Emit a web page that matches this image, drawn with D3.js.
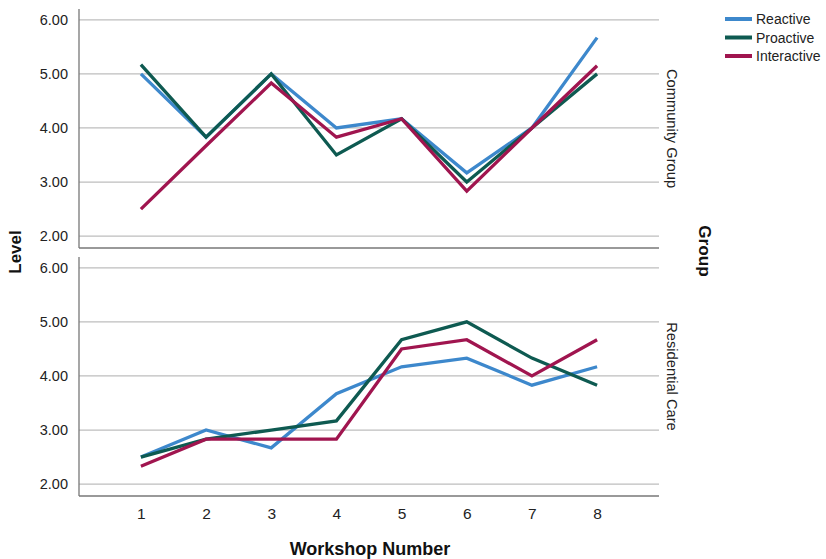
<!DOCTYPE html>
<html>
<head>
<meta charset="utf-8">
<script src="https://cdn.jsdelivr.net/npm/d3@7"></script>
<style>
  html, body { margin: 0; padding: 0; background: #fff; }
  svg { display: block; font-family: Arial, "Liberation Sans", sans-serif; }
</style>
</head>
<body>
<div id="chart"></div>
<script>
// Workshop numbers on the x axis
const workshops = [1, 2, 3, 4, 5, 6, 7, 8];
const groups = ["Community Group", "Residential Care"];
const seriesNames = ["Reactive", "Proactive", "Interactive"];
const seriesColors = ["#3d88cc", "#0e5a51", "#a0154f"];
const yTicks = [2, 3, 4, 5, 6];

// Mean level per workshop, Community Group
const communityReactive    = [5.00, 3.83, 5.00, 4.00, 4.17, 3.17, 4.00, 5.67];
const communityProactive   = [5.17, 3.83, 5.00, 3.50, 4.17, 3.00, 4.00, 5.00];
const communityInteractive = [2.50, 3.67, 4.83, 3.83, 4.17, 2.83, 4.00, 5.15];

// Mean level per workshop, Residential Care
const residentialReactive    = [2.50, 3.00, 2.67, 3.67, 4.17, 4.33, 3.83, 4.17];
const residentialProactive   = [2.50, 2.83, 3.00, 3.17, 4.67, 5.00, 4.33, 3.83];
const residentialInteractive = [2.33, 2.83, 2.83, 2.83, 4.50, 4.67, 4.00, 4.67];

const panels = [
  { group: groups[0], series: [communityReactive, communityProactive, communityInteractive] },
  { group: groups[1], series: [residentialReactive, residentialProactive, residentialInteractive] }
];

const W = 826, H = 559;
const left = 79, right = 659;
const panelBoxes = [ { top: 9, bottom: 248 }, { top: 257, bottom: 496 } ];

const svg = d3.select("#chart").append("svg")
  .attr("width", W).attr("height", H);

const x = d3.scaleLinear().domain([0.05, 8.95]).range([left, right]);

panels.forEach((p, i) => {
  const box = panelBoxes[i];
  const y = d3.scaleLinear().domain([1.78, 6.2]).range([box.bottom, box.top]);
  const g = svg.append("g");

  // horizontal gridlines
  g.selectAll("line.grid").data(yTicks).join("line")
    .attr("class", "grid")
    .attr("x1", left).attr("x2", right)
    .attr("y1", d => y(d)).attr("y2", d => y(d))
    .attr("stroke", "#bebebe").attr("stroke-width", 1.3);

  // y axis
  const yAxis = d3.axisLeft(y).tickValues(yTicks).tickFormat(d3.format(".2f"))
    .tickSize(0).tickPadding(11);
  const ya = g.append("g").attr("transform", `translate(${left},0)`).call(yAxis);
  ya.select(".domain").remove();
  ya.selectAll("text").attr("font-size", 14.5).attr("fill", "#222")
    .attr("font-family", "Arial, 'Liberation Sans', sans-serif");

  // axis frame lines
  g.append("line").attr("x1", left).attr("x2", left)
    .attr("y1", box.top).attr("y2", box.bottom)
    .attr("stroke", "#777").attr("stroke-width", 1.3);
  g.append("line").attr("x1", left).attr("x2", right)
    .attr("y1", box.bottom).attr("y2", box.bottom)
    .attr("stroke", "#777").attr("stroke-width", 1.3);

  // series lines
  const line = d3.line().x((d, j) => x(workshops[j])).y(d => y(d));
  p.series.forEach((vals, k) => {
    g.append("path").datum(vals)
      .attr("d", line)
      .attr("fill", "none")
      .attr("stroke", seriesColors[k])
      .attr("stroke-width", 3.3)
      .attr("stroke-linejoin", "miter");
  });

  // panel strip label
  const cy = (box.top + box.bottom) / 2;
  g.append("text")
    .attr("transform", `translate(667,${cy}) rotate(90)`)
    .attr("text-anchor", "middle")
    .attr("font-size", 14.7).attr("fill", "#222")
    .text(p.group);
});

// x axis ticks on the bottom panel
const xAxis = d3.axisBottom(x).tickValues(workshops).tickFormat(d3.format("d"))
  .tickSize(0).tickPadding(12);
const xa = svg.append("g").attr("transform", `translate(0,${panelBoxes[1].bottom})`).call(xAxis);
xa.select(".domain").remove();
xa.selectAll("text").attr("font-size", 15.5).attr("fill", "#222")
  .attr("font-family", "Arial, 'Liberation Sans', sans-serif");

// axis titles
svg.append("text")
  .attr("x", 370).attr("y", 555)
  .attr("text-anchor", "middle").attr("font-weight", "bold").attr("font-size", 18)
  .attr("fill", "#111")
  .text("Workshop Number");

svg.append("text")
  .attr("transform", "translate(21,252) rotate(-90)")
  .attr("text-anchor", "middle").attr("font-weight", "bold").attr("font-size", 17)
  .attr("fill", "#111")
  .text("Level");

svg.append("text")
  .attr("transform", "translate(699,251) rotate(90)")
  .attr("text-anchor", "middle").attr("font-weight", "bold").attr("font-size", 17.2)
  .attr("fill", "#111")
  .text("Group");

// legend
const legend = svg.append("g");
const legendY = [19, 37.5, 56];
seriesNames.forEach((name, k) => {
  legend.append("line")
    .attr("x1", 725).attr("x2", 752)
    .attr("y1", legendY[k]).attr("y2", legendY[k])
    .attr("stroke", seriesColors[k]).attr("stroke-width", 4);
  legend.append("text")
    .attr("x", 756).attr("y", legendY[k])
    .attr("dy", "0.36em")
    .attr("font-size", 14).attr("fill", "#222")
    .text(name);
});
</script>
</body>
</html>
